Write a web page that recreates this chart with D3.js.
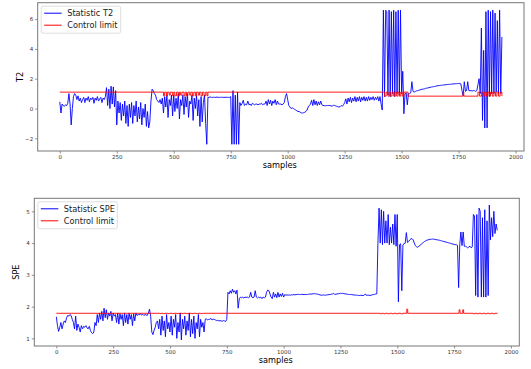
<!DOCTYPE html>
<html>
<head>
<meta charset="utf-8">
<script src="https://cdn.jsdelivr.net/npm/d3@7"></script>
<style>
  body { margin: 0; background: #fff; }
  svg { display: block; font-family: "DejaVu Sans", sans-serif; }
</style>
</head>
<body>
<svg id="chart" width="531" height="369"></svg>
<script>
// one value every 5 samples, starting at sample 0
const STEP = 5;

const t2Values = [
  0.45, -0.3, 0.3, 0.2, 0.15, 0.25, 0.2, 0.35, 1.0, 0.3, -1.1, 0.0, 0.8, 1.0, 0.9, 0.6, 0.85, 0.5, 0.7, 0.4,
  0.6, 0.75, 0.4, 0.7, 0.55, 0.8, 0.45, 0.7, 0.6, 0.75, 0.35, 0.7, 0.55, 0.8, 0.5, 0.65, 0.75, 0.4, 0.7, 0.6,
  0.8, 1.4, 0.2, 1.3, 0.0, 1.5, 0.3, 1.45, 0.1, 1.2, -1.1, 0.5, -0.3, 0.4, -0.8, 0.3, -0.5, 0.5, -1.0, 0.2,
  -1.2, 0.3, -0.6, 0.4, -1.0, 0.2, -0.5, 0.5, -0.9, 0.1, -0.7, 0.4, -1.1, 0.0, -0.6, 0.3, -1.2, -0.2, -1.3, -0.9,
  0.5, 1.3, 1.2, 1.0, 0.9, 0.6, 0.5, 0.4, 0.6, 0.3, 0.7, -0.3, 0.8, 0.1, 0.9, -0.6, 0.6, 0.2, 0.9, -0.5,
  0.9, -0.2, 0.7, 0.0, 1.0, -0.7, 0.6, 0.2, 0.9, -0.4, 0.8, 0.1, 1.0, -0.6, 0.5, 0.3, 0.9, -0.8, 0.7, 0.0,
  0.9, -0.5, 0.6, -1.2, 0.8, -0.9, 0.4, 0.9, -1.0, -2.4, 0.75, 0.75, 0.78, 0.75, 0.75, 0.76, 0.75, 0.75, 0.77, 0.75,
  0.75, 0.75, 0.76, 0.75, 0.75, 0.75, 0.76, 0.75, 0.75, 0.75, 0.8, -2.4, 1.2, -2.4, 0.9, -2.4, 1.1, -2.4, 0.4, 0.2,
  0.35, 0.55, 0.2, 0.3, 0.25, 0.5, 0.25, 0.3, 0.2, 0.35, 0.3, 0.25, 0.3, 0.3, 0.25, 0.3, 0.3, 0.35, 0.25, 0.3,
  0.3, 0.5, 0.2, 0.6, 0.3, 0.55, 0.2, 0.5, 0.35, 0.6, 0.25, 0.5, 0.3, 0.3, 0.3, 0.25, 0.3, 0.4, 0.8, 1.0,
  0.6, 0.2, 0.1, 0.0, 0.05, 0.0, -0.05, -0.1, -0.15, -0.2, -0.2, -0.25, -0.3, -0.3, -0.28, -0.25, -0.2, -0.1, 0.1, 0.2,
  0.3, 0.55, 0.2, 0.6, 0.25, 0.5, 0.2, 0.45, 0.25, 0.5, 0.25, 0.2, 0.2, 0.18, 0.2, 0.2, 0.2, 0.2, 0.18, 0.15,
  0.22, 0.2, 0.18, 0.15, 0.12, 0.1, 0.12, 0.2, 0.15, 0.25, 0.4, 0.65, 0.3, 0.7, 0.45, 0.75, 0.4, 0.7, 0.5, 0.8,
  0.45, 0.75, 0.5, 0.8, 0.45, 0.75, 0.55, 0.8, 0.5, 0.75, 0.5, 0.8, 0.55, 0.75, 0.6, 0.8, 0.55, 0.75, 0.6, 0.8,
  0.5, 0.8, 0.3, -0.1, 6.6, 0.8, 6.6, 6.5, 0.9, 6.6, 0.8, 6.5, 1.0, 6.6, 0.8, 6.5, 1.0, 6.6, 0.9, 6.6,
  1.0, 2.5, -0.35, 1.0, 1.05, 0.25, 1.0, 1.0, 1.05, 1.8, 1.15, 1.1, 1.15, 1.18, 1.2, 1.22, 1.25, 1.27, 1.3, 1.3,
  1.32, 1.35, 1.37, 1.38, 1.4, 1.42, 1.44, 1.45, 1.47, 1.48, 1.5, 1.52, 1.53, 1.54, 1.55, 1.56, 1.57, 1.58, 1.59, 1.6,
  1.61, 1.62, 1.62, 1.63, 1.64, 1.65, 1.65, 1.66, 1.67, 1.67, 1.68, 1.68, 1.65, 1.2, 0.85, 1.8, 1.15, 1.2, 1.8, 1.2,
  1.2, 1.2, 1.18, 1.2, 1.2, 1.15, 1.2, 1.6, 2.0, 1.0, 5.4, -0.8, 3.9, -1.3, 6.5, -1.3, 6.6, 0.8, 6.5, 1.0,
  6.6, 1.0, 6.4, 1.1, 5.9, 1.0, 6.6, 1.0, 4.8
];

const speValues = [
  1.68, 1.4, 1.22, 1.35, 1.5, 1.3, 1.45, 1.55, 1.5, 1.65, 1.72, 1.7, 1.75, 1.72, 1.6, 1.5, 1.3, 1.7, 1.25, 1.45,
  1.35, 1.2, 1.4, 1.3, 1.38, 1.35, 1.4, 1.33, 1.3, 1.38, 1.25, 1.18, 1.15, 1.2, 1.5, 1.4, 1.75, 1.5, 1.8, 1.6,
  1.85, 1.55, 1.95, 1.65, 1.9, 1.6, 1.8, 1.7, 1.85, 1.55, 1.8, 1.7, 1.75, 1.5, 1.8, 1.45, 1.78, 1.6, 1.75, 1.4,
  1.8, 1.5, 1.75, 1.45, 1.8, 1.6, 1.75, 1.4, 1.78, 1.55, 1.8, 1.72, 1.75, 1.74, 1.78, 1.73, 1.76, 1.72, 1.75, 1.74,
  1.72, 1.8, 1.92, 1.7, 1.2, 1.12, 1.25, 1.35, 1.5, 1.55, 1.3, 1.6, 1.1, 1.7, 1.25, 1.55, 1.05, 1.75, 1.3, 1.5,
  1.2, 1.7, 1.1, 1.6, 1.35, 1.75, 1.0, 1.5, 1.2, 1.8, 0.95, 1.6, 1.3, 1.7, 1.1, 1.55, 1.25, 1.8, 1.05, 1.6,
  1.15, 1.7, 1.0, 1.5, 1.3, 1.75, 1.05, 1.6, 1.35, 1.5, 1.2, 1.6, 1.62, 1.58, 1.6, 1.6, 1.63, 1.58, 1.6, 1.6,
  1.58, 1.56, 1.57, 1.55, 1.56, 1.55, 1.54, 1.56, 1.55, 1.53, 1.6, 2.45, 2.4, 2.5, 2.42, 2.55, 2.45, 2.5, 2.4, 2.52,
  1.95, 2.25, 2.3, 2.28, 2.3, 2.27, 2.3, 2.29, 2.3, 2.28, 2.3, 2.45, 2.3, 2.28, 2.3, 2.5, 2.3, 2.27, 2.3, 2.28,
  2.3, 2.25, 2.3, 2.28, 2.3, 2.45, 2.52, 2.5, 2.4, 2.3, 2.25, 2.45, 2.3, 2.4, 2.28, 2.45, 2.3, 2.4, 2.32, 2.42,
  2.3, 2.38, 2.36, 2.37, 2.36, 2.37, 2.36, 2.37, 2.37, 2.38, 2.37, 2.38, 2.38, 2.39, 2.38, 2.38, 2.39, 2.38, 2.38, 2.38,
  2.38, 2.38, 2.39, 2.4, 2.39, 2.4, 2.4, 2.41, 2.4, 2.4, 2.39, 2.38, 2.37, 2.36, 2.36, 2.37, 2.36, 2.36, 2.37, 2.37,
  2.38, 2.38, 2.39, 2.4, 2.42, 2.38, 2.39, 2.4, 2.4, 2.41, 2.42, 2.41, 2.42, 2.41, 2.4, 2.4, 2.39, 2.38, 2.38, 2.38,
  2.38, 2.37, 2.37, 2.36, 2.36, 2.36, 2.35, 2.35, 2.36, 2.35, 2.35, 2.36, 2.4, 2.35, 2.36, 2.36, 2.35, 2.36, 2.37, 2.38,
  2.38, 2.4, 2.4, 4.0, 5.1, 4.0, 5.05, 3.95, 5.0, 4.0, 4.7, 4.0, 4.9, 3.95, 4.5, 4.0, 4.6, 3.95, 4.9, 3.9,
  4.9, 2.15, 3.95, 3.98, 2.5, 3.95, 3.98, 4.0, 4.33, 4.02, 4.05, 4.1, 4.13, 4.14, 4.1, 4.0, 3.92, 3.88, 3.87, 3.9,
  3.93, 3.96, 3.99, 4.02, 4.05, 4.07, 4.09, 4.1, 4.11, 4.12, 4.12, 4.13, 4.12, 4.12, 4.11, 4.1, 4.1, 4.09, 4.08, 4.07,
  4.06, 4.05, 4.04, 4.03, 4.02, 4.01, 4.0, 3.99, 3.98, 3.97, 3.96, 3.95, 3.95, 3.93, 2.6, 3.95, 4.35, 3.92, 4.35, 3.9,
  3.9, 3.88, 3.85, 3.88, 3.9, 3.85, 3.88, 4.9, 4.85, 2.35, 4.9, 2.3, 5.1, 5.0, 2.3, 4.8, 2.3, 5.05, 2.3, 4.7,
  2.35, 5.2, 4.1, 4.8, 4.2, 5.0, 4.3, 4.6, 4.4
];

// control limits as [sample, value] steps
const t2Limit = [
  [0, 1.1], [455, 0.85], [460, 1.1], [468, 0.85], [472, 1.1], [480, 0.9], [485, 1.1], [495, 0.85],
  [500, 1.1], [505, 0.85], [512, 1.1], [520, 0.85], [525, 1.1], [530, 0.9], [536, 1.1], [545, 0.85],
  [550, 1.1], [556, 0.85], [562, 1.1], [570, 0.9], [575, 1.1], [582, 0.85], [588, 1.1], [595, 0.85],
  [600, 1.1], [608, 0.9], [613, 1.1], [620, 0.85], [626, 1.1], [633, 0.85], [640, 1.1], [646, 0.85],
  [650, 1.1], [1425, 0.83], [1432, 1.1], [1440, 0.83], [1446, 1.1], [1452, 0.83], [1458, 1.1],
  [1465, 0.83], [1470, 1.1], [1478, 0.83], [1484, 1.1], [1490, 0.83], [1496, 1.1], [1503, 0.83],
  [1510, 1.1], [1528, 0.83], [1770, 1.1], [1773, 0.83], [1835, 1.1], [1842, 0.83], [1850, 1.1],
  [1858, 0.83], [1864, 1.1], [1872, 0.83], [1878, 1.1], [1885, 0.83], [1890, 1.1], [1898, 0.83],
  [1905, 1.1], [1912, 0.83], [1918, 1.1], [1925, 0.83], [1932, 1.1], [1940, 0.83]
];

const speLimit = [
  [0, 1.79], [455, 1.78], [462, 1.79], [470, 1.78], [478, 1.79], [490, 1.78], [498, 1.79], [510, 1.78],
  [518, 1.79], [530, 1.78], [538, 1.79], [552, 1.78], [560, 1.79], [572, 1.78], [580, 1.79], [595, 1.78],
  [603, 1.79], [615, 1.78], [623, 1.79], [635, 1.78], [643, 1.79],
  [1425, 1.775], [1432, 1.79], [1440, 1.775], [1448, 1.79], [1458, 1.775], [1466, 1.79], [1476, 1.775],
  [1484, 1.79], [1495, 1.775], [1503, 1.79], [1515, 1.775], [1525, 1.79], [1542, 1.92], [1546, 1.79],
  [1772, 1.9], [1776, 1.79], [1788, 1.9], [1792, 1.79], [1835, 1.775], [1842, 1.79], [1850, 1.775],
  [1858, 1.79], [1868, 1.775], [1876, 1.79], [1886, 1.775], [1894, 1.79], [1905, 1.775], [1912, 1.79],
  [1922, 1.775], [1930, 1.79], [1940, 1.78]
];

const xTicks = [0, 250, 500, 750, 1000, 1250, 1500, 1750, 2000];
const t2Ticks = [-2, 0, 2, 4, 6];
const speTicks = [1, 2, 3, 4, 5];

const svg = d3.select('#chart');

function drawPanel(opt) {
  const x = d3.scaleLinear().domain([-97, 2037]).range([opt.left, opt.right]);
  const y = d3.scaleLinear().domain(opt.yDomain).range([opt.bottom, opt.top]);
  const g = svg.append('g');

  const stat = opt.values.map((v, i) => [i * STEP, v]);
  const line = d3.line().x(d => x(d[0])).y(d => y(d[1]));
  const stepLine = d3.line().x(d => x(d[0])).y(d => y(d[1])).curve(d3.curveStepAfter);

  g.append('path')
    .attr('d', line(stat))
    .attr('fill', 'none')
    .attr('stroke', '#0000ff')
    .attr('stroke-width', 0.9)
    .attr('stroke-linejoin', 'round');

  g.append('path')
    .attr('d', stepLine(opt.limit))
    .attr('fill', 'none')
    .attr('stroke', '#ff0000')
    .attr('stroke-width', 0.9);

  // axes
  const xAxis = g.append('g')
    .attr('transform', `translate(0,${opt.bottom})`)
    .call(d3.axisBottom(x).tickValues(xTicks).tickSize(2.5).tickPadding(2).tickFormat(d3.format('d')));
  const yAxis = g.append('g')
    .attr('transform', `translate(${opt.left},0)`)
    .call(d3.axisLeft(y).tickValues(opt.yTicks).tickSize(2.5).tickPadding(2)
      .tickFormat(d => d < 0 ? '\u2212' + Math.abs(d) : d));
  [xAxis, yAxis].forEach(a => {
    a.select('.domain').remove();
    a.selectAll('line').attr('stroke', '#444').attr('stroke-width', 0.6);
    a.selectAll('text').attr('fill', '#333').style('font-size', '5.5px')
      .style('font-family', '"DejaVu Sans", sans-serif');
  });

  g.append('rect')
    .attr('x', opt.left).attr('y', opt.top)
    .attr('width', opt.right - opt.left).attr('height', opt.bottom - opt.top)
    .attr('fill', 'none').attr('stroke', '#777').attr('stroke-width', 1);

  g.append('text')
    .attr('x', (opt.left + opt.right) / 2 - 1)
    .attr('y', opt.bottom + 17)
    .attr('text-anchor', 'middle')
    .style('font-size', '8.2px')
    .text('samples');

  g.append('text')
    .attr('transform', `translate(${opt.left - 15},${(opt.top + opt.bottom) / 2}) rotate(-90)`)
    .attr('text-anchor', 'middle')
    .style('font-size', '8.2px')
    .text(opt.yLabel);

  // legend
  const lg = g.append('g').attr('transform', `translate(${opt.left + 3.5},${opt.top + 3.5})`);
  lg.append('rect')
    .attr('width', 79.5).attr('height', 27)
    .attr('rx', 2)
    .attr('fill', '#fff').attr('fill-opacity', 0.85)
    .attr('stroke', '#d0d0d0').attr('stroke-width', 0.7);
  [[opt.statName, '#0000ff'], ['Control limit', '#ff0000']].forEach((d, i) => {
    const yy = 7 + i * 12;
    lg.append('line')
      .attr('x1', 3).attr('x2', 20.5).attr('y1', yy).attr('y2', yy)
      .attr('stroke', d[1]).attr('stroke-width', 1);
    lg.append('text')
      .attr('x', 26).attr('y', yy + 2.9)
      .style('font-size', '8.2px')
      .attr('fill', '#222')
      .text(d[0]);
  });
}

drawPanel({
  left: 37.7, right: 524, top: 2.7, bottom: 151,
  yDomain: [-2.85, 7.1], yTicks: t2Ticks, yLabel: 'T2',
  values: t2Values, limit: t2Limit, statName: 'Statistic T2'
});

drawPanel({
  left: 34.3, right: 519.3, top: 198.3, bottom: 346,
  yDomain: [0.76, 5.41], yTicks: speTicks, yLabel: 'SPE',
  values: speValues, limit: speLimit, statName: 'Statistic SPE'
});
</script>
</body>
</html>
